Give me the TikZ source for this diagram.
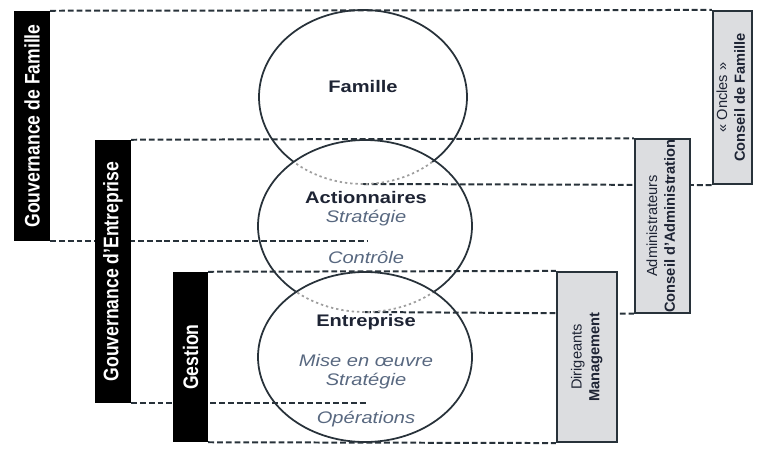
\documentclass[tikz,border=0pt]{standalone}
\usepackage{fontspec}
\setmainfont{Liberation Sans}
\newfontfamily\widefont[FakeStretch=1.2]{Liberation Sans}
\usepackage{graphicx}
\usepackage{tikz}
\usetikzlibrary{backgrounds}
\definecolor{inkline}{RGB}{40,50,58}
\definecolor{inktext}{RGB}{30,36,52}
\definecolor{softtext}{RGB}{88,104,128}
\definecolor{boxgray}{RGB}{220,221,224}

\begin{document}
\begin{tikzpicture}[x=0.03cm, y=-0.03cm,
    govbox/.style={fill=black, text=white, inner sep=0, font=\fontsize{15}{18}\selectfont\bfseries},
    rolebox/.style={draw=inkline, line width=1.8pt, fill=boxgray, text=inktext, inner sep=0, font=\fontsize{12.5}{15}\selectfont},
    dline/.style={draw=inkline, line width=1.7pt, dash pattern=on 5pt off 2.5pt},
    ring/.style={draw=inkline, line width=1.5pt},
    hidden/.style={draw=gray!75, line width=1.5pt, dash pattern=on 2pt off 2.5pt},
    title/.style={font=\widefont\fontsize{14.3}{17}\selectfont\bfseries, text=inktext},
    sub/.style={font=\widefont\fontsize{14.3}{17}\selectfont\itshape, text=softtext}
  ]
  \useasboundingbox (0,0) rectangle (760,450);

  \node[govbox, minimum width=1.08cm, minimum height=6.9cm] (famgov) at (32,126) {\rotatebox{90}{\scalebox{1}[1.2]{Gouvernance de Famille}}};
  \node[govbox, minimum width=1.08cm, minimum height=7.89cm] (entgov) at (113,271.5) {\rotatebox{90}{\scalebox{1}[1.2]{Gouvernance d'Entreprise}}};
  \node[govbox, minimum width=1.05cm, minimum height=5.1cm] (gestion) at (190.5,357) {\rotatebox{90}{\scalebox{1}[1.2]{Gestion}}};

  \node[rolebox, minimum width=1.17cm, minimum height=5.19cm] (conseil) at (732.5,97.5)
    {\rotatebox{90}{\begin{tabular}{@{}c@{}}« Oncles »\\ \textbf{Conseil de Famille}\end{tabular}}};
  \node[rolebox, minimum width=1.65cm, minimum height=5.16cm] (admin) at (662.5,226)
    {\rotatebox{90}{\begin{tabular}{@{}c@{}}Administrateurs\\ \textbf{Conseil d'Administration}\end{tabular}}};
  \node[rolebox, minimum width=1.8cm, minimum height=5.1cm] (dirig) at (587,357)
    {\rotatebox{90}{\begin{tabular}{@{}c@{}}Dirigeants\\ \textbf{Management}\end{tabular}}};

  \coordinate (famtail) at (363,184);
  \coordinate (acttail) at (365,312);
  \coordinate (actmid) at (368,226);

  \draw[ring] plot[domain=131.7:408.3, samples=90, smooth] ({363+104*cos(\x)},{97+87*sin(\x)});
  \draw[hidden] plot[domain=48.3:131.7, samples=30, smooth] ({363+104*cos(\x)},{97+87*sin(\x)});
  \draw[ring] plot[domain=130.4:409.6, samples=90, smooth] ({365+107*cos(\x)},{226+86*sin(\x)});
  \draw[hidden] plot[domain=49.6:130.4, samples=30, smooth] ({365+107*cos(\x)},{226+86*sin(\x)});
  \draw[ring] (365,357) ellipse [x radius=107, y radius=85];

  \node[title] (famille) at (363,87) {Famille};
  \node[title] (actionnaires) at (366,198) {Actionnaires};
  \node[sub] (strat1) at (366,218) {Stratégie};
  \node[sub] (controle) at (366,257) {Contrôle};
  \node[title] (entreprise) at (366,322) {Entreprise};
  \node[sub] (oeuvre) at (366,361) {Mise en œuvre};
  \node[sub] (strat2) at (366,381) {Stratégie};
  \node[sub] (operations) at (366,419) {Opérations};

  \begin{scope}[on background layer]
    \draw[dline] (famgov.north east) -- (conseil.north west);
    \draw[dline] (famgov.south east) -- (famgov.south east -| actmid);
    \draw[dline] (famtail) -- (conseil.south west);
    \draw[dline] (entgov.north east) -- (admin.north west);
    \draw[dline] (acttail) -- (admin.south west);
    \draw[dline] (entgov.south east) -- (entgov.south east -| actmid);
    \draw[dline] (gestion.north east) -- (dirig.north west);
    \draw[dline] (gestion.south east) -- (dirig.south west);
  \end{scope}
\end{tikzpicture}
\end{document}
